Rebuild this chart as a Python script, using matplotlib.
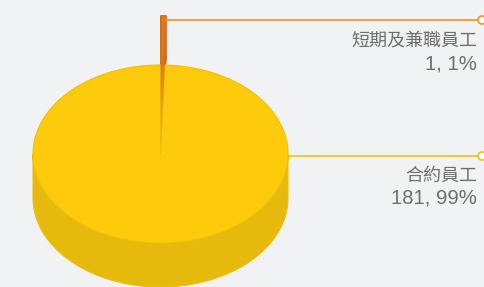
import numpy as np
import matplotlib.pyplot as plt
from matplotlib.patches import Polygon, Circle
from matplotlib.colors import LinearSegmentedColormap

plt.rcParams['font.family'] = ['Liberation Sans', 'Noto Sans CJK TC']

# data (in drawing order, clockwise from 12 o'clock)
categories = ['短期及兼職員工', '合約員工']
values = [1, 181]
percents = ['1%', '99%']

# styles
top_colors = ['#E27B1F', '#FDCA0C']
side_colors = ['#CC6A1A', '#E6BA0C']
edge_colors = ['#D9721C', '#F0BF08']
line_colors = ['#EE9320', '#F3C20E']
text_color = '#6E6E6E'
bg = '#F1F2F4'

W, H = 484, 287
cx, cy, rx, ry, depth = 160.5, 154.0, 127.5, 89.0, 44.0
sliced_offset = [49, 0]
label_x = 477
label_y = [(42, 64), (176, 198)]
conn_y = [20, 156]

fig = plt.figure(figsize=(W / 100, H / 100), dpi=100)
fig.patch.set_facecolor(bg)
ax = fig.add_axes([0, 0, 1, 1])
ax.set_xlim(0, W)
ax.set_ylim(H, 0)
ax.axis('off')


def arc(a0, a1, dx=0.0, dy=0.0, n=200):
    t = np.radians(np.linspace(a0, a1, n))
    return np.column_stack([cx + dx + rx * np.cos(t), cy + dy - ry * np.sin(t)])


total = sum(values)
bounds = 90 - np.concatenate([[0], np.cumsum(values)]) / total * 360

# small (sliced) slice, drawn first because it sits behind the big one
a0, a1 = bounds[0], bounds[1]
mid = np.radians((a0 + a1) / 2)
dx = sliced_offset[0] * np.cos(mid)
dy = -sliced_offset[0] * np.sin(mid)
c = np.array([cx + dx, cy + dy])
rim = arc(a0, a1, dx, dy, 20)
down = np.array([0, depth])
for edge in (rim[0], rim[-1]):
    quad = [c, edge, edge + down, c + down]
    ax.add_patch(Polygon(quad, closed=True, fc=side_colors[0], ec=side_colors[0], lw=1.2))
ax.add_patch(Polygon(np.vstack([rim, rim[::-1] + down]), closed=True,
                     fc=side_colors[0], ec=side_colors[0], lw=1.2))
ax.add_patch(Polygon(np.vstack([c, rim]), closed=True, fc=top_colors[0],
                     ec=edge_colors[0], lw=1.2))
small_top = rim[len(rim) // 2]

# big slice: front wall, then top face
b0, b1 = bounds[1], bounds[2]
wall = arc(180, 360)
ax.add_patch(Polygon(np.vstack([wall, wall[::-1] + down]), closed=True,
                     fc=side_colors[1], ec=edge_colors[1], lw=0.8))
top = np.vstack([[cx, cy], arc(b0, b1, n=720)])
ax.add_patch(Polygon(top, closed=True, fc=top_colors[1], ec=edge_colors[1], lw=0.8))

# gap left by the sliced piece
gap_pts = np.vstack([[cx, cy], arc(bounds[0], bounds[1], n=20)])
gap = Polygon(gap_pts, closed=True, fc='none', ec='none')
ax.add_patch(gap)
cmap = LinearSegmentedColormap.from_list('gap', ['#E27B1F', '#E6A514', '#E9BC10'])
grad = np.linspace(0, 1, 100).reshape(-1, 1)
im = ax.imshow(grad, cmap=cmap, extent=[cx - 10, cx + 10, cy, cy - ry],
               aspect='auto', zorder=3)
im.set_clip_path(gap)
ax.set_xlim(0, W)
ax.set_ylim(H, 0)

# connectors and labels
starts = [(small_top[0] + 2, conn_y[0]), (cx + rx, conn_y[1])]
for i in range(len(values)):
    x0, y0 = starts[i]
    ax.plot([x0, 482], [y0, y0], color=line_colors[i], lw=1.2, zorder=4)
    ax.add_patch(Circle((482, y0), 4, fc='white', ec=line_colors[i], lw=1.2, zorder=5))
    ax.text(label_x, label_y[i][0], categories[i], ha='right', va='center',
            fontsize=13, color=text_color)
    ax.text(label_x, label_y[i][1], f'{values[i]}, {percents[i]}', ha='right',
            va='center', fontsize=14.6, color=text_color)

fig.savefig('out.png', dpi=100, facecolor=bg)
